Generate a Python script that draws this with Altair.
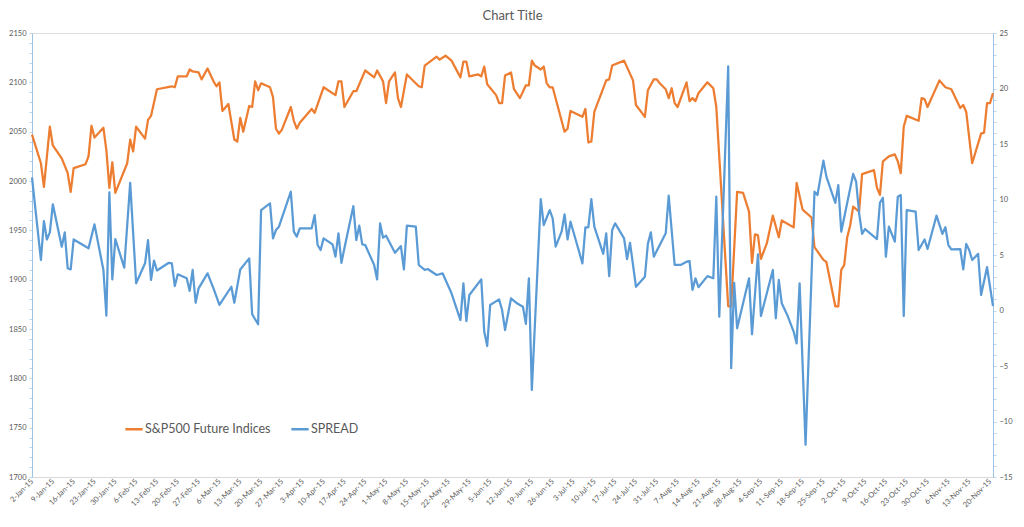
import altair as alt
import pandas as pd

# Days since 2-Jan-2015 and values
sp_days = [0, 3, 4, 6, 7, 10, 12, 13, 14, 18, 19, 20, 21, 24, 25, 26, 27, 28, 32, 33, 34, 35,
           38, 39, 40, 42, 47, 48, 49, 52, 53, 54, 56, 57, 59, 61, 62, 63, 64, 66, 68, 69, 70, 71,
           73, 74, 75, 76, 77, 80, 81, 82, 83, 84, 87, 88, 89, 90, 94, 95, 98, 102, 103, 104, 105,
           108, 109, 112, 115, 116, 118, 119, 120, 122, 123, 124, 126, 130, 131, 132, 136, 137, 139,
           141, 144, 145, 146, 147, 150, 151, 152, 153, 156, 157, 158, 159, 161, 162, 164, 166, 167,
           168, 169, 171, 172, 173, 174, 175, 179, 180, 181, 185, 186, 187, 188, 189, 193, 194, 195,
           199, 202, 203, 206, 207, 209, 210, 211, 213, 214, 215, 216, 217, 220, 221, 222, 223, 224,
           227, 229, 230, 234, 235, 237, 239, 241, 242, 243, 244, 245, 247, 249, 251, 252, 256, 257,
           259, 262, 263, 266, 267, 270, 271, 272, 273, 274, 275, 276, 278, 279, 283, 284, 285, 286,
           288, 290, 291, 292, 293, 294, 298, 299, 300, 301, 305, 307, 309, 312, 313, 314, 316, 319,
           320, 321, 322, 323]
sp_vals = [2047, 2018, 1994, 2055, 2036, 2023, 2008, 1989, 2013, 2017, 2025, 2056, 2044, 2054,
           2031, 1993, 2019, 1988, 2018, 2042, 2030, 2055, 2043, 2062, 2066, 2093, 2096, 2095, 2106,
           2106, 2113, 2111, 2110, 2103, 2114, 2101, 2096, 2100, 2071, 2078, 2042, 2040, 2064, 2050,
           2076, 2075, 2101, 2092, 2099, 2095, 2085, 2053, 2048, 2052, 2075, 2061, 2053, 2059, 2073,
           2069, 2095, 2087, 2101, 2101, 2075, 2091, 2091, 2112, 2105, 2112, 2101, 2079, 2101, 2110,
           2084, 2075, 2108, 2096, 2095, 2117, 2126, 2123, 2127, 2122, 2105, 2121, 2121, 2106, 2108,
           2106, 2116, 2098, 2087, 2079, 2079, 2107, 2110, 2093, 2084, 2097, 2097, 2122, 2117, 2113,
           2116, 2099, 2095, 2095, 2050, 2053, 2071, 2065, 2073, 2039, 2040, 2070, 2102, 2103, 2117,
           2122, 2102, 2077, 2065, 2092, 2103, 2103, 2099, 2093, 2084, 2094, 2079, 2075, 2100, 2081,
           2084, 2081, 2089, 2100, 2094, 2075, 1873, 1873, 1989, 1988, 1969, 1917, 1946, 1945, 1921,
           1937, 1965, 1943, 1960, 1953, 1998, 1971, 1963, 1933, 1920, 1918, 1873, 1873, 1910, 1915,
           1943, 1955, 1974, 1969, 2007, 2011, 1993, 1986, 2020, 2025, 2027, 2020, 2008, 2055, 2066,
           2061, 2084, 2083, 2075, 2102, 2095, 2093, 2074, 2077, 2070, 2018, 2048, 2049, 2079, 2079,
           2089]

spread_days = [0, 3, 4, 5, 6, 7, 10, 11, 12, 13, 14, 19, 21, 24, 25, 26, 27, 28, 31, 33, 35, 38,
               39, 40, 41, 42, 46, 47, 48, 49, 52, 53, 54, 55, 56, 59, 61, 63, 67, 68, 70, 73, 74,
               76, 77, 80, 81, 82, 83, 87, 88, 89, 90, 94, 95, 96, 97, 98, 101, 102, 103, 104, 105,
               108, 109, 110, 111, 112, 115, 116, 117, 118, 119, 122, 124, 125, 126, 129, 130, 132,
               133, 136, 138, 141, 144, 145, 146, 147, 151, 152, 153, 154, 157, 158, 159, 161, 163,
               165, 166, 167, 168, 171, 172, 174, 175, 176, 178, 179, 180, 181, 185, 186, 187, 188,
               189, 192, 193, 194, 195, 196, 199, 200, 201, 203, 206, 207, 208, 209, 213, 214, 216,
               218, 220, 221, 222, 223, 224, 227, 229, 230, 231, 234, 235, 236, 237, 241, 242, 244,
               245, 249, 250, 251, 252, 254, 256, 257, 258, 260, 263, 264, 266, 267, 270, 271, 272,
               276, 277, 278, 279, 280, 284, 285, 286, 287, 288, 290, 291, 292, 293, 294, 297, 298,
               300, 301, 304, 306, 307, 308, 309, 312, 313, 314, 315, 316, 318, 319, 321, 323]
spread_vals = [12.0, 4.55, 8.06, 6.4, 7.04, 9.57, 5.75, 7.04, 3.8, 3.7, 6.4, 5.6, 7.76, 3.65,
               -0.47, 10.65, 2.8, 6.44, 3.86, 11.5, 2.45, 4.25, 6.35, 2.75, 4.5, 3.6, 4.3, 4.25,
               2.2, 3.26, 2.9, 1.76, 3.65, 0.7, 2.0, 3.35, 2.0, 0.5, 2.14, 0.7, 3.7, 4.7, -0.34,
               -1.24, 9.05, 9.65, 6.5, 7.25, 7.55, 10.7, 7.1, 6.65, 7.4, 7.4, 8.6, 5.9, 5.45, 6.5,
               5.96, 4.85, 6.95, 4.3, 5.6, 9.4, 6.35, 7.64, 5.96, 5.9, 4.1, 2.8, 7.85, 6.56, 6.74,
               5.2, 5.8, 3.7, 7.64, 7.55, 4.1, 3.65, 3.74, 3.2, 3.35, 1.55, -0.86, 2.45, -0.95, 1.4,
               2.8, -1.9, -3.2, 0.5, 1.0, 0.04, -1.76, 1.1, 0.65, 0.34, -1.2, 2.9, -7.16, 10.04, 7.7,
               9.05, 8.3, 5.75, 7.1, 8.66, 6.4, 8.0, 4.25, 7.5, 7.5, 10.04, 7.55, 5.1, 6.95, 3.1,
               7.25, 7.85, 6.5, 4.64, 6.1, 2.14, 3.05, 6.0, 7.04, 4.85, 6.95, 10.34, 4.1, 4.1, 4.4,
               4.46, 1.85, 2.9, 2.1, 3.1, 2.9, 10.25, -0.56, 22.0, -5.2, 2.5, -1.6, 2.9, -2.14, 5.06,
               -0.5, 3.65, -0.7, 2.75, 0.65, -0.5, -1.9, -2.96, 2.45, -12.1, 10.7, 10.4, 13.5, 12.06,
               9.7, 11.3, 7.1, 12.3, 11.6, 8.76, 6.9, 7.34, 6.44, 9.7, 10.16, 4.85, 7.55, 6.2, 10.25,
               10.4, -0.5, 9.05, 8.9, 5.45, 6.4, 5.54, 8.54, 6.9, 7.5, 5.9, 5.5, 5.54, 3.7, 6.0,
               5.45, 4.55, 5.1, 1.4, 3.9, 0.4]

tick_dates = ["2015-01-02", "2015-01-09", "2015-01-16", "2015-01-23", "2015-01-30", "2015-02-06",
              "2015-02-13", "2015-02-20", "2015-02-27", "2015-03-06", "2015-03-13", "2015-03-20",
              "2015-03-27", "2015-04-03", "2015-04-10", "2015-04-17", "2015-04-24", "2015-05-01",
              "2015-05-08", "2015-05-15", "2015-05-22", "2015-05-29", "2015-06-05", "2015-06-12",
              "2015-06-19", "2015-06-26", "2015-07-03", "2015-07-10", "2015-07-17", "2015-07-24",
              "2015-07-31", "2015-08-07", "2015-08-14", "2015-08-21", "2015-08-28", "2015-09-04",
              "2015-09-11", "2015-09-18", "2015-09-25", "2015-10-02", "2015-10-09", "2015-10-16",
              "2015-10-23", "2015-10-30", "2015-11-06", "2015-11-13", "2015-11-20"]

series_names = ["S&P500 Future Indices", "SPREAD"]
series_colors = ["#ED7D31", "#5B9BD5"]
left_ticks = list(range(1700, 2151, 10))
right_ticks = list(range(-15, 26, 1))

FONT = "Lato"
GREY = "#595959"


def dt(s):
    y, m, d = (int(p) for p in s.split("-"))
    return alt.DateTime(year=y, month=m, date=d)


base_day = pd.Timestamp("2015-01-02")
df_sp = pd.DataFrame({
    "date": [(base_day + pd.Timedelta(days=d)).strftime("%Y-%m-%dT00:00:00") for d in sp_days],
    "value": sp_vals,
    "series": series_names[0],
})
df_spread = pd.DataFrame({
    "date": [(base_day + pd.Timedelta(days=d)).strftime("%Y-%m-%dT00:00:00") for d in spread_days],
    "value": spread_vals,
    "series": series_names[1],
})

x_enc = alt.X(
    "date:T",
    scale=alt.Scale(domain=[dt("2015-01-02"), dt("2015-11-21")], nice=False),
    axis=alt.Axis(
        values=[dt(s) for s in tick_dates],
        format="%-d-%b-%y",
        labelAngle=315,
        labelAlign="right",
        labelBaseline="middle",
        labelFontSize=7.5,
        labelColor=GREY,
        labelFont=FONT,
        labelPadding=3,
        labelOverlap=False,
        ticks=False,
        grid=False,
        domainColor="#D9D9D9",
        title=None,
    ),
)

color_enc = alt.Color(
    "series:N",
    scale=alt.Scale(domain=series_names, range=series_colors),
    legend=alt.Legend(
        orient="none",
        legendX=92,
        legendY=386,
        direction="horizontal",
        title=None,
        symbolType="stroke",
        symbolStrokeWidth=2.5,
        symbolSize=300,
        labelFontSize=12.5,
        labelColor=GREY,
        labelFont=FONT,
        labelOffset=1,
        columnPadding=15,
    ),
)

sp_line = alt.Chart(df_sp).mark_line(strokeWidth=2.25, strokeJoin="round").encode(
    x=x_enc,
    y=alt.Y(
        "value:Q",
        scale=alt.Scale(domain=[1700, 2150], nice=False, zero=False),
        axis=alt.Axis(
            orient="left",
            values=left_ticks,
            format="d",
            labelExpr="datum.value % 50 === 0 ? datum.label : ''",
            labelOverlap=False,
            labelFontSize=7.5,
            labelColor=GREY,
            labelFont=FONT,
            labelPadding=3,
            tickSize=3,
            tickColor="#BDD7EE",
            domainColor="#9DC3E6",
            grid=False,
            title=None,
        ),
    ),
    color=color_enc,
)

spread_line = alt.Chart(df_spread).mark_line(strokeWidth=2.25, strokeJoin="round").encode(
    x=x_enc,
    y=alt.Y(
        "value:Q",
        scale=alt.Scale(domain=[-15, 25], nice=False, zero=False),
        axis=alt.Axis(
            orient="right",
            values=right_ticks,
            format="d",
            labelExpr="datum.value % 5 === 0 ? datum.label : ''",
            labelOverlap=False,
            labelFontSize=7.5,
            labelColor=GREY,
            labelFont=FONT,
            labelPadding=3,
            tickSize=3,
            tickColor="#BDD7EE",
            domainColor="#9DC3E6",
            grid=False,
            title=None,
        ),
    ),
    color=color_enc,
)

chart = alt.layer(sp_line, spread_line).resolve_scale(y="independent").properties(
    width=961,
    height=444,
    autosize=alt.AutoSizeParams(type="none"),
    padding={"left": 24, "top": 25, "right": 23, "bottom": 40},
    title=alt.TitleParams("Chart Title", fontSize=13, font=FONT, color=GREY,
                          fontWeight="normal", offset=6, anchor="middle"),
).configure_view(stroke=None).configure(background="white")

chart.save("out.html", embed_options={"renderer": "svg", "actions": False})
